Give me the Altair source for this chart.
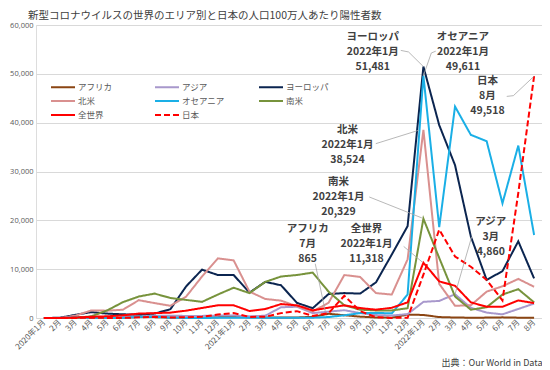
import altair as alt
import pandas as pd

# ---- data -------------------------------------------------------------
x_labels = ["2020年1月", "2月", "3月", "4月", "5月", "6月", "7月", "8月", "9月", "10月", "11月", "12月",
            "2021年1月", "2月", "3月", "4月", "5月", "6月", "7月", "8月", "9月", "10月", "11月", "12月",
            "2022年1月", "2月", "3月", "4月", "5月", "6月", "7月", "8月"]

series_names = ["アフリカ", "アジア", "ヨーロッパ", "北米", "オセアニア", "南米", "全世界", "日本"]

africa = [0, 0, 4, 15, 25, 55, 220, 180, 110, 70, 90, 170, 320, 150, 120, 120, 110, 240, 865, 560,
          280, 110, 70, 700, 620, 190, 100, 60, 80, 130, 70, 40]
asia = [0, 20, 30, 100, 110, 180, 330, 430, 480, 420, 430, 500, 520, 330, 470, 2200, 2300, 1000,
        1300, 1600, 1000, 600, 500, 800, 3300, 3500, 4860, 2100, 1100, 750, 1850, 2950]
europe = [0, 50, 650, 1200, 900, 750, 700, 900, 1800, 6500, 9900, 8800, 8800, 5200, 7400, 6700,
          3100, 2000, 4900, 5100, 5000, 7300, 13000, 18800, 51481, 39500, 31300, 16700, 7800,
          9600, 15700, 8100]
north_america = [0, 5, 480, 1550, 1500, 1700, 3650, 3050, 2500, 4400, 8500, 12200, 11800, 5400,
                 3900, 3550, 2400, 1350, 3100, 8800, 8400, 5100, 4800, 12000, 38524, 7000, 2500,
                 2600, 5400, 6500, 8000, 6400]
oceania = [0, 5, 150, 100, 10, 20, 250, 280, 40, 20, 20, 30, 40, 30, 30, 30, 40, 60, 200, 550,
           1000, 1050, 950, 4800, 49611, 18600, 43300, 37500, 36200, 23500, 35300, 17000]
south_america = [0, 0, 30, 350, 1550, 3250, 4400, 5000, 4100, 3700, 3300, 4800, 6200, 5100, 7400,
                 8500, 8800, 9300, 5400, 2600, 1700, 1550, 1550, 2000, 20329, 12300, 4400, 1700,
                 2200, 4800, 5900, 3200]
world = [0, 10, 100, 250, 350, 550, 900, 1000, 1100, 1500, 2050, 2600, 2600, 1430, 1840, 2860,
         2590, 1560, 2110, 2590, 2040, 1700, 2100, 3200, 11318, 7500, 6600, 3200, 2300, 2300,
         3600, 3050]
japan = [0, 1, 15, 80, 20, 15, 130, 250, 120, 140, 270, 700, 1000, 220, 250, 1000, 1400, 430, 980,
         4560, 1400, 160, 25, 35, 8870, 18100, 12600, 10500, 7800, 3600, 25600, 49518]

series_values = [africa, asia, europe, north_america, oceania, south_america, world, japan]

# annotations: label text, anchor of the first line (month index, value)
ann_ids = ["eu", "oc", "jp", "na", "sa", "af", "wd", "as"]
ann_texts = ["ヨーロッパ\n2022年1月\n51,481", "オセアニア\n2022年1月\n49,611", "日本\n8月\n49,518",
             "北米\n2022年1月\n38,524", "南米\n2022年1月\n20,329", "アフリカ\n7月\n865",
             "全世界\n2022年1月\n11,318", "アジア\n3月\n4,860"]
ann_x = [20.8, 26.5, 28.05, 19.2, 18.63, 16.68, 20.4, 28.26]
ann_y = [57600, 57600, 48450, 38460, 27910, 18290, 18180, 19620]

# leader lines (month index, value)
lead_ids = ["eu", "eu", "eu", "oc", "oc", "oc", "jp", "jp", "jp", "na", "na", "sa", "sa",
            "af", "af", "wd", "wd", "as", "as"]
lead_x = [22.57, 23.06, 24.0, 24.78, 24.5, 24.0, 29.27, 29.69, 31.0, 20.99, 23.7, 20.58, 23.9,
          17.16, 17.8, 22.75, 23.95, 27.06, 26.0]
lead_y = [54800, 54480, 51481, 54640, 54270, 49611, 45380, 45530, 49518, 35700, 38440, 24780,
          20500, 11120, 1300, 14660, 11400, 16710, 4860]

# ---- styles -----------------------------------------------------------
colors = ["#8B4513", "#A898CC", "#0B2550", "#D9908F", "#1AAFE6", "#77933C", "#FF0000", "#FF0000"]
widths = [2, 2, 2, 2, 2, 2, 3.5, 2]
dashes = [[1, 0], [1, 0], [1, 0], [1, 0], [1, 0], [1, 0], [1, 0], [6, 3]]

FONT = "Noto Sans CJK JP"

rows = []
for name, vals in zip(series_names, series_values):
    for i, v in enumerate(vals):
        rows.append({"series": name, "idx": i, "value": v})
df = pd.DataFrame(rows)

ann_df = pd.DataFrame({"id": ann_ids, "text": ann_texts, "x": ann_x, "y": ann_y})
lead_df = pd.DataFrame({"id": lead_ids, "x": lead_x, "y": lead_y,
                        "ord": list(range(len(lead_ids)))})

label_array = "[" + ",".join("'" + s + "'" for s in x_labels) + "]"

x_scale = alt.Scale(domain=[-0.5, len(x_labels) - 0.5], nice=False, zero=False)
y_scale = alt.Scale(domain=[0, 60000], nice=False)

x_axis = alt.Axis(values=list(range(len(x_labels))), labelExpr=label_array + "[datum.value]",
                  labelAngle=-45, labelAlign="right", labelBaseline="middle",
                  labelPadding=3, labelFontSize=8, labelFont=FONT, labelColor="#595959",
                  ticks=False, grid=False, domain=False, labelOverlap=False,
                  labelFlush=False, labelBound=False,
                  title="出典：Our World in Data", titleX=506, titleY=44,
                  titleAlign="right", titleAnchor="end", titleBaseline="middle",
                  titleFontSize=9, titleFontWeight="normal", titleFont=FONT,
                  titleColor="#404040")
y_axis = alt.Axis(values=[0, 10000, 20000, 30000, 40000, 50000, 60000], format=",d",
                  labelFontSize=7.5, labelFont="Open Sans", labelColor="#595959",
                  labelPadding=3, ticks=False, domain=False, gridColor="#D9D9D9",
                  gridWidth=1, title=None, labelOverlap=False)

legend = alt.Legend(
    title=None, orient="none", legendX=22, legendY=57, columns=3, direction="horizontal",
    gridAlign="all", columnPadding=30, rowPadding=4, symbolType="M-3,0H3", symbolSize=64,
    labelOffset=10, labelFontSize=8.5, labelFont=FONT, labelColor="#595959", padding=0,
    labelLimit=120,
)

lines = alt.Chart(df).mark_line().encode(
    x=alt.X("idx:Q", scale=x_scale, axis=x_axis),
    y=alt.Y("value:Q", scale=y_scale, axis=y_axis),
    color=alt.Color("series:N", scale=alt.Scale(domain=series_names, range=colors), legend=legend),
    strokeWidth=alt.StrokeWidth("series:N", scale=alt.Scale(domain=series_names, range=widths),
                                legend=legend),
    strokeDash=alt.StrokeDash("series:N", scale=alt.Scale(domain=series_names, range=dashes),
                              legend=legend),
    order=alt.Order("idx:Q"),
)

leaders = alt.Chart(lead_df).mark_line(color="#A6A6A6", strokeWidth=0.8).encode(
    x=alt.X("x:Q", scale=x_scale, axis=x_axis),
    y=alt.Y("y:Q", scale=y_scale, axis=y_axis),
    detail="id:N",
    order=alt.Order("ord:Q"),
)

texts = alt.Chart(ann_df).mark_text(
    lineBreak="\n", lineHeight=15, fontSize=10.5, fontWeight="bold", font=FONT,
    color="#404040", align="center", baseline="middle",
).encode(
    x=alt.X("x:Q", scale=x_scale, axis=x_axis),
    y=alt.Y("y:Q", scale=y_scale, axis=y_axis),
    text="text:N",
)

chart = alt.layer(lines, leaders, texts).properties(
    width=506, height=293,
    padding={"left": 28, "top": 17, "right": 0, "bottom": 52},
    autosize=alt.AutoSizeParams(type="none"),
    title=alt.TitleParams(
        text="新型コロナウイルスの世界のエリア別と日本の人口100万人あたり陽性者数",
        anchor="start", frame="group", fontSize=10.5, fontWeight="normal", font=FONT,
        color="#404040", offset=0, dx=-8,
    ),
).configure_view(stroke=None).configure_axis(labelOverlap=False).configure(background="white")

chart.save("out.html", embed_options={"renderer": "svg", "actions": False})
